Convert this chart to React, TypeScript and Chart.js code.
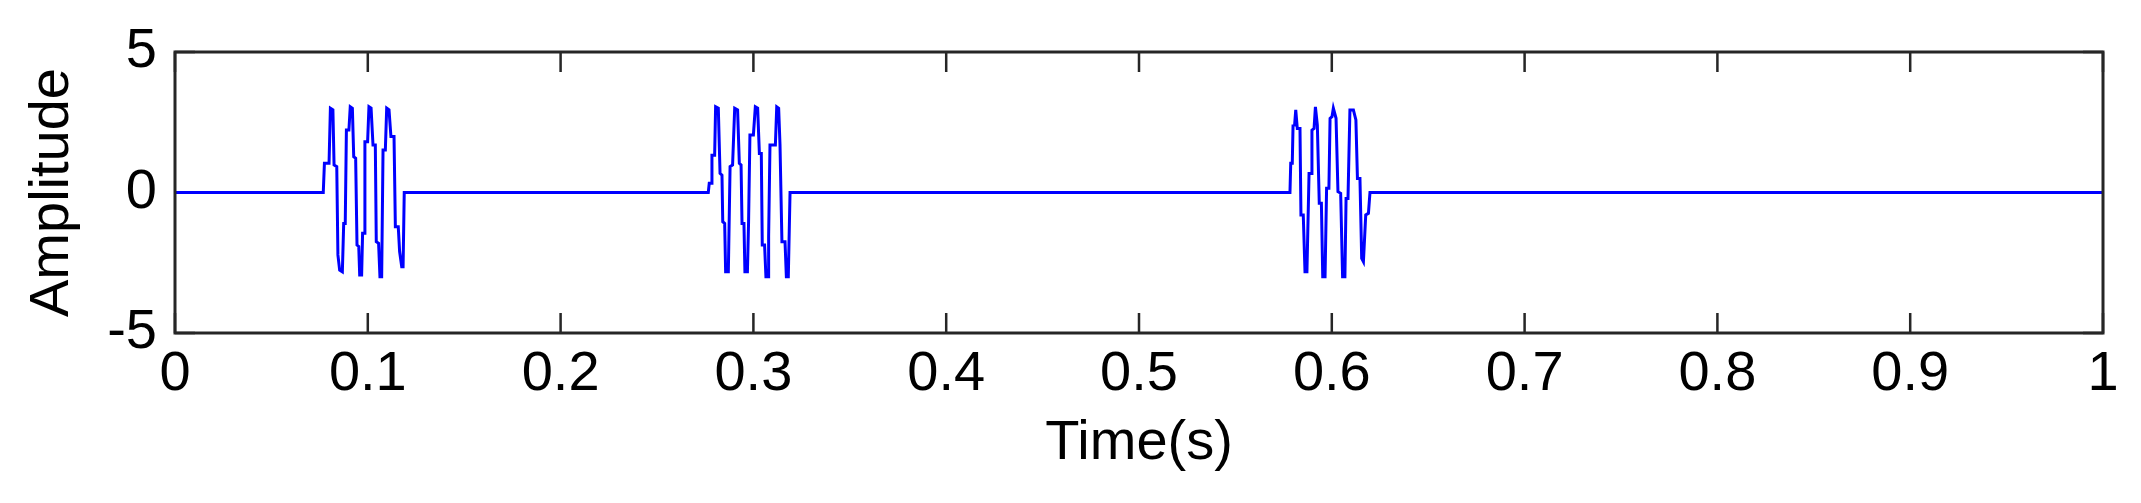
import React, { useEffect, useRef } from "react";
import { Chart, registerables } from "chart.js";

Chart.register(...registerables);

// Axis ticks
const xTicks = [0, 0.1, 0.2, 0.3, 0.4, 0.5, 0.6, 0.7, 0.8, 0.9, 1];
const yTicks = [-5, 0, 5];
const xTickLabels = ["0", "0.1", "0.2", "0.3", "0.4", "0.5", "0.6", "0.7", "0.8", "0.9", "1"];
const yTickLabels = ["-5", "0", "5"];

// Signal: flat zero line with three oscillating bursts (time in s, amplitude)
const startT = [0];
const startA = [0];

const burst1T = [0.0769, 0.0775, 0.0799, 0.0806, 0.0819, 0.0825, 0.0839, 0.0845, 0.0854, 0.0868, 0.0875, 0.0883, 0.0889, 0.0902, 0.0909, 0.092, 0.0927, 0.0937, 0.0944, 0.0953, 0.0958, 0.0968, 0.0973, 0.0982, 0.0985, 0.0999, 0.1006, 0.1017, 0.1027, 0.1039, 0.1044, 0.1056, 0.1063, 0.1072, 0.1079, 0.1091, 0.1098, 0.111, 0.112, 0.1136, 0.1143, 0.1158, 0.1165, 0.1176, 0.1183, 0.1189];
const burst1A = [0, 1.04, 1.04, 3.0, 2.94, 0.98, 0.92, -2.22, -2.76, -2.82, -1.1, -1.1, 2.22, 2.22, 3.05, 3.0, 1.27, 1.22, -1.87, -1.92, -2.94, -2.94, -1.45, -1.45, 1.81, 1.81, 3.05, 3.0, 1.69, 1.69, -1.75, -1.81, -3.0, -3.0, 1.51, 1.51, 3.0, 2.94, 1.99, 1.99, -1.22, -1.22, -2.1, -2.64, -2.64, 0];

const burst2T = [0.2766, 0.2771, 0.2782, 0.2785, 0.2799, 0.2804, 0.2818, 0.2827, 0.2837, 0.2841, 0.2851, 0.2856, 0.287, 0.2879, 0.2892, 0.2903, 0.2918, 0.2927, 0.2936, 0.2941, 0.2951, 0.2956, 0.2969, 0.2975, 0.2982, 0.3, 0.301, 0.3022, 0.3031, 0.3041, 0.3046, 0.3058, 0.3065, 0.3076, 0.3079, 0.3086, 0.3114, 0.3121, 0.3131, 0.3138, 0.3148, 0.3164, 0.3171, 0.3181, 0.319];
const burst2A = [0, 0.33, 0.33, 1.33, 1.33, 3.05, 3.0, 0.68, 0.62, -1.04, -1.1, -2.82, -2.82, 0.92, 0.98, 3.0, 2.94, 1.04, 0.98, -1.1, -1.1, -2.82, -2.82, -1.04, 2.05, 2.05, 3.05, 3.0, 1.39, 1.39, -1.87, -1.87, -3.0, -3.0, -1.57, 1.69, 1.69, 3.05, 3.0, 1.69, -1.75, -1.75, -3.0, -3.0, 0];

const burst3T = [0.5783, 0.5787, 0.5795, 0.5799, 0.5807, 0.5813, 0.5821, 0.5835, 0.584, 0.5852, 0.5861, 0.5871, 0.5882, 0.5894, 0.5897, 0.5908, 0.5915, 0.5925, 0.5935, 0.5946, 0.5953, 0.5965, 0.5973, 0.5985, 0.5991, 0.6001, 0.6008, 0.6022, 0.6032, 0.6046, 0.6056, 0.6068, 0.6074, 0.6084, 0.6094, 0.6112, 0.6125, 0.6133, 0.6146, 0.6155, 0.6164, 0.6176, 0.619, 0.6198];
const burst3A = [0, 1.04, 1.04, 2.38, 2.4, 2.94, 2.28, 2.28, -0.8, -0.8, -2.82, -2.82, 0.68, 0.68, 2.22, 2.28, 3.05, 2.4, -0.38, -0.38, -3.0, -3.0, 0.15, 0.15, 2.64, 2.7, 3.0, 2.64, 0.03, -0.03, -3.0, -3.0, -0.21, -0.21, 2.94, 2.94, 2.58, 0.5, 0.5, -2.34, -2.46, -0.8, -0.74, 0];

const endT = [1];
const endA = [0];

const FONT = '"Liberation Sans", Arial, Helvetica, sans-serif';

const toPoints = (t: number[], a: number[]) => t.map((v, i) => ({ x: v, y: a[i] }));

const framePlugin = {
  id: "matlabFrame",
  beforeDatasetsDraw(chart: any) {
    const { ctx, chartArea } = chart;
    const xs = chart.scales.x;
    const ys = chart.scales.y;
    const len = 20;
    ctx.save();
    ctx.strokeStyle = "#262626";
    ctx.lineWidth = 2.5;
    ctx.beginPath();
    xTicks.forEach((v) => {
      const px = xs.getPixelForValue(v);
      ctx.moveTo(px, chartArea.top);
      ctx.lineTo(px, chartArea.top + len);
      ctx.moveTo(px, chartArea.bottom);
      ctx.lineTo(px, chartArea.bottom - len);
    });
    yTicks.forEach((v) => {
      const py = ys.getPixelForValue(v);
      ctx.moveTo(chartArea.left, py);
      ctx.lineTo(chartArea.left + len, py);
      ctx.moveTo(chartArea.right, py);
      ctx.lineTo(chartArea.right - len, py);
    });
    ctx.stroke();
    ctx.restore();
  },
  afterDatasetsDraw(chart: any) {
    const { ctx, chartArea } = chart;
    ctx.save();
    ctx.strokeStyle = "#262626";
    ctx.lineWidth = 3;
    ctx.strokeRect(chartArea.left, chartArea.top, chartArea.right - chartArea.left, chartArea.bottom - chartArea.top);
    ctx.restore();
  },
};

export default function App() {
  const canvasRef = useRef<HTMLCanvasElement | null>(null);

  useEffect(() => {
    const canvas = canvasRef.current;
    if (!canvas) return;
    const data = [
      ...toPoints(startT, startA),
      ...toPoints(burst1T, burst1A),
      ...toPoints(burst2T, burst2A),
      ...toPoints(burst3T, burst3A),
      ...toPoints(endT, endA),
    ];
    const chart = new Chart(canvas, {
      type: "line",
      data: {
        datasets: [
          {
            data,
            borderColor: "#0000ff",
            borderWidth: 3,
            pointRadius: 0,
            tension: 0,
            fill: false,
          },
        ],
      },
      options: {
        animation: false,
        responsive: false,
        maintainAspectRatio: false,
        parsing: false as any,
        normalized: true,
        layout: { padding: { top: 52, right: 38, left: 0, bottom: 0 } },
        plugins: {
          legend: { display: false },
          tooltip: { enabled: false },
        },
        scales: {
          x: {
            type: "linear",
            min: 0,
            max: 1,
            grid: { display: false, drawTicks: false, tickLength: 0 },
            border: { display: false },
            afterBuildTicks: (scale: any) => {
              scale.ticks = xTicks.map((v) => ({ value: v }));
            },
            afterFit: (scale: any) => {
              scale.height = 170;
            },
            ticks: {
              autoSkip: false,
              maxRotation: 0,
              padding: 8,
              color: "#000",
              font: { family: FONT, size: 56 },
              callback: (v: any) => {
                const i = xTicks.indexOf(Number(v));
                return i >= 0 ? xTickLabels[i] : "";
              },
            },
            title: {
              display: true,
              text: "Time(s)",
              color: "#000",
              font: { family: FONT, size: 56 },
              padding: { top: 0, bottom: 26 },
            },
          },
          y: {
            type: "linear",
            min: -5,
            max: 5,
            grid: { display: false, drawTicks: false, tickLength: 0 },
            border: { display: false },
            afterBuildTicks: (scale: any) => {
              scale.ticks = yTicks.map((v) => ({ value: v }));
            },
            afterFit: (scale: any) => {
              scale.width = 175;
            },
            ticks: {
              autoSkip: false,
              padding: 18,
              color: "#000",
              font: { family: FONT, size: 56 },
              callback: (v: any) => {
                const i = yTicks.indexOf(Number(v));
                return i >= 0 ? yTickLabels[i] : "";
              },
            },
            title: {
              display: true,
              text: "Amplitude",
              color: "#000",
              font: { family: FONT, size: 56 },
              padding: { top: 19, bottom: 0 },
            },
          },
        },
      },
      plugins: [framePlugin],
    });
    return () => chart.destroy();
  }, []);

  return (
    <div style={{ position: "absolute", left: 0, top: 0, width: 2141, height: 503, background: "#fff" }}>
      <canvas ref={canvasRef} width={2141} height={503} style={{ display: "block" }} />
    </div>
  );
}
